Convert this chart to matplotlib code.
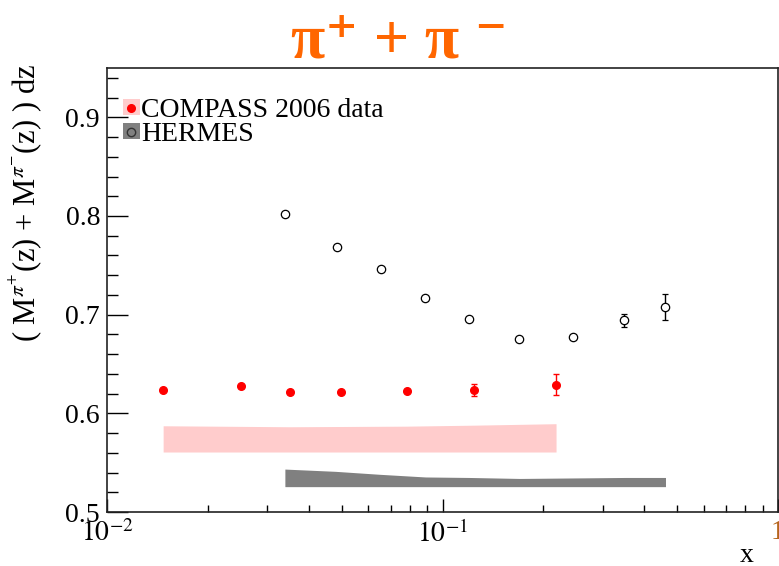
import matplotlib
matplotlib.use('Agg')
import matplotlib.pyplot as plt
from matplotlib.patches import Patch
from matplotlib.lines import Line2D
from matplotlib.legend_handler import HandlerTuple
from matplotlib.ticker import FixedLocator, FixedFormatter, LogLocator, NullFormatter, MultipleLocator
import numpy as np

plt.rcParams['font.family'] = ['Liberation Serif', 'DejaVu Serif']
plt.rcParams['mathtext.fontset'] = 'stix'

# COMPASS 2006 points
compass_x = [0.0147, 0.025, 0.0351, 0.0499, 0.0785, 0.124, 0.218]
compass_y = [0.6235, 0.6272, 0.6212, 0.6218, 0.6230, 0.6235, 0.6292]
compass_err = [0.0012, 0.0012, 0.0012, 0.0012, 0.0015, 0.0058, 0.0105]

# COMPASS systematic band
compass_band_x = [0.0147, 0.035, 0.078, 0.124, 0.218]
compass_band_hi = [0.5874, 0.5864, 0.5870, 0.5880, 0.5895]
compass_band_lo = [0.5608, 0.5608, 0.5608, 0.5608, 0.5608]

# HERMES points
hermes_x = [0.0339, 0.0485, 0.0657, 0.0889, 0.1196, 0.169, 0.245, 0.348, 0.462]
hermes_y = [0.8018, 0.7684, 0.7462, 0.7167, 0.6954, 0.6752, 0.6772, 0.6944, 0.7080]
hermes_err = [0.001, 0.001, 0.001, 0.001, 0.001, 0.001, 0.0015, 0.0065, 0.013]

# HERMES systematic band
hermes_band_x = [0.0339, 0.048, 0.065, 0.089, 0.12, 0.17, 0.245, 0.35, 0.462]
hermes_band_hi = [0.5435, 0.5412, 0.5382, 0.5355, 0.5350, 0.5340, 0.5345, 0.5350, 0.5350]
hermes_band_lo = [0.5257] * 9

pink = '#ffcccc'
gray = '#808080'

fig = plt.figure(figsize=(7.79, 5.66), dpi=100)
ax = fig.add_axes([107/779, 54/566, 671/779, 444/566])

ax.fill_between(compass_band_x, compass_band_lo, compass_band_hi, color=pink, lw=0)
ax.fill_between(hermes_band_x, hermes_band_lo, hermes_band_hi, color=gray, lw=0)

ax.errorbar(compass_x, compass_y, yerr=compass_err, fmt='o', color='red', ms=5.5,
            elinewidth=1, capsize=2, capthick=1)
ax.errorbar(hermes_x, hermes_y, yerr=hermes_err, fmt='o', mfc='white', mec='black',
            ecolor='black', ms=6, mew=0.9, elinewidth=1, capsize=2.5, capthick=1)

ax.set_xscale('log')
ax.set_xlim(0.01, 1)
ax.set_ylim(0.5, 0.95)

ax.xaxis.set_major_locator(FixedLocator([0.01, 0.1, 1]))
ax.xaxis.set_major_formatter(FixedFormatter([r'$10^{-2}$', r'$10^{-1}$', '1']))
ax.xaxis.set_minor_locator(LogLocator(base=10, subs=np.arange(2, 10)))
ax.xaxis.set_minor_formatter(NullFormatter())
ax.yaxis.set_major_locator(MultipleLocator(0.1))
ax.yaxis.set_minor_locator(MultipleLocator(0.02))

ax.tick_params(axis='both', which='both', direction='in', top=False, right=False, labelsize=20)
ax.tick_params(axis='y', which='major', length=15, width=1, pad=5)
ax.tick_params(axis='y', which='minor', length=8, width=1)
ax.tick_params(axis='x', which='major', length=9.5, width=1, pad=6)
ax.tick_params(axis='x', which='minor', length=5, width=1)
ax.get_xticklabels()[-1].set_color('#b5651d')

for s in ax.spines.values():
    s.set_linewidth(1.2)
    s.set_color('#222222')

ax.set_ylabel(r'( M$^{\pi^{+}}$(z) + M$^{\pi^{-}}$(z) ) dz', fontsize=22, loc='top')
ax.yaxis.set_label_coords(-0.094, 1.01)
ax.set_xlabel('x', fontsize=20, loc='right')
ax.xaxis.set_label_coords(0.963, -0.07)

handles = [(Patch(color=pink, lw=0), Line2D([], [], ls='none', marker='o', color='red', ms=5.5)),
           (Patch(color=gray, lw=0), Line2D([], [], ls='none', marker='o', mfc=gray, mec='#333333', ms=6))]
ax.legend(handles, ['COMPASS 2006 data', 'HERMES'], handler_map={tuple: HandlerTuple(ndivide=1, pad=0)},
          loc='upper left', bbox_to_anchor=(0.024, 0.932), frameon=False, fontsize=20,
          handlelength=0.6, handleheight=0.5, handletextpad=0.05, labelspacing=-0.05,
          borderpad=0, borderaxespad=0)

fig.text(0.512, 0.925, '\u03c0\u207a + \u03c0 \u207b', color='#ff6600', fontsize=45,
         fontweight='bold', family=['Liberation Serif', 'DejaVu Serif'], ha='center', va='center')

fig.savefig('out.png', dpi=100)
